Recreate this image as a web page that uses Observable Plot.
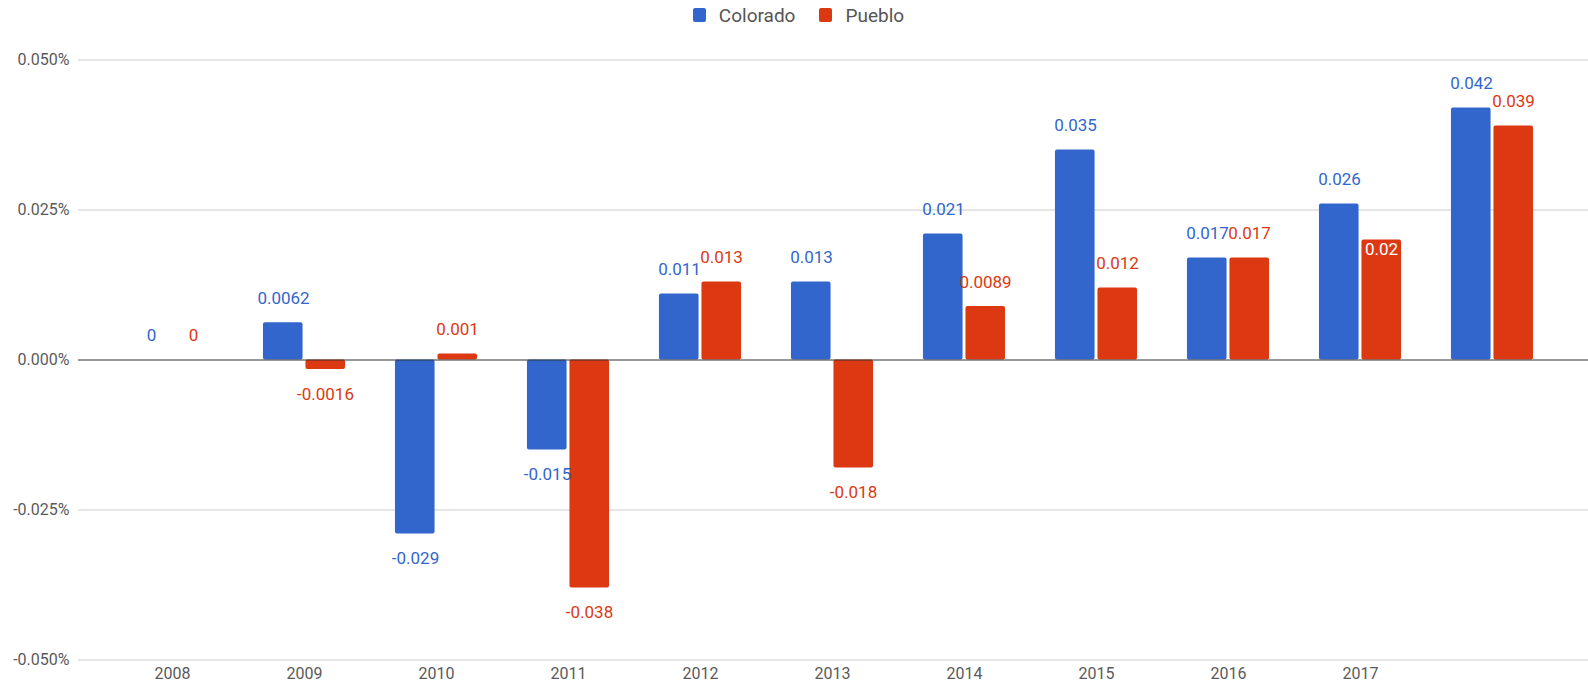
<!DOCTYPE html>
<html>
<head>
<meta charset="utf-8">
<script src="https://cdn.jsdelivr.net/npm/d3@7"></script>
<script src="https://cdn.jsdelivr.net/npm/@observablehq/plot@0.6"></script>
<style>
  body { margin: 0; background: #fff; font-family: Roboto, "Noto Sans", sans-serif; }
  #legend { height: 30px; display: flex; justify-content: center; align-items: center; gap: 24px; font-size: 19px; color: #555; padding-left: 9px; box-sizing: border-box; }
  #legend .item { display: flex; align-items: center; gap: 13px; }
  #legend .sw { width: 13px; height: 14px; border-radius: 2px; }
  svg { display: block; }
</style>
</head>
<body>
<div id="legend"></div>
<div id="chart"></div>
<script>
const years = ["2008","2009","2010","2011","2012","2013","2014","2015","2016","2017","2018"];
const xTickLabels = ["2008","2009","2010","2011","2012","2013","2014","2015","2016","2017"];
const seriesNames = ["Colorado", "Pueblo"];
const colorado = [0, 0.0062, -0.029, -0.015, 0.011, 0.013, 0.021, 0.035, 0.017, 0.026, 0.042];
const pueblo   = [0, -0.0016, 0.001, -0.038, 0.013, -0.018, 0.0089, 0.012, 0.017, 0.02, 0.039];
const colors = ["#3366cc", "#dc3912"];
const yTicks = [-0.05, -0.025, 0, 0.025, 0.05];

const data = [];
years.forEach((y, i) => {
  data.push({year: y, series: seriesNames[0], value: colorado[i]});
  data.push({year: y, series: seriesNames[1], value: pueblo[i]});
});

// Legend
const leg = document.getElementById("legend");
seriesNames.forEach((s, i) => {
  const it = document.createElement("div");
  it.className = "item";
  it.innerHTML = `<span class="sw" style="background:${colors[i]}"></span><span>${s}</span>`;
  leg.appendChild(it);
});

const W = 1588, H = 657;
const step = 132.9;
const x0 = 101.5;
const half = step / 2;
const isInside = d => d.year === "2017" && d.series === "Pueblo";
const fmtLabel = v => String(v);

const blue = data.filter(d => d.series === "Colorado");
const red = data.filter(d => d.series === "Pueblo");
const textPos = arr => arr.filter(d => !isInside(d) && d.value >= 0);
const textNeg = arr => arr.filter(d => !isInside(d) && d.value < 0);

const chart = Plot.plot({
  width: W,
  height: H,
  marginTop: 29.5,
  marginBottom: 27.5,
  marginLeft: 78,
  marginRight: 0,
  style: { fontFamily: "Roboto, 'Noto Sans', sans-serif", background: "#fff" },
  x: { domain: years, range: [x0, x0 + step * years.length], padding: 0, label: null },
  y: { domain: [-0.05, 0.05], label: null },
  marks: [
    Plot.ruleY(yTicks.filter(t => t !== 0), { stroke: "#cccccc", strokeWidth: 1 }),
    Plot.barY(blue, { x: "year", y: "value", fill: colors[0], insetLeft: half - 41.5, insetRight: half + 1, rx: 2 }),
    Plot.barY(red, { x: "year", y: "value", fill: colors[1], insetLeft: half + 1, insetRight: half - 41.5, rx: 2 }),
    Plot.ruleY([0], { stroke: "#333333", strokeWidth: 1 }),
    Plot.text(textPos(blue), { x: "year", y: "value", text: d => fmtLabel(d.value), dx: -21, dy: -24, fill: colors[0], fontSize: 17, lineAnchor: "middle" }),
    Plot.text(textNeg(blue), { x: "year", y: "value", text: d => fmtLabel(d.value), dx: -21, dy: 25, fill: colors[0], fontSize: 17, lineAnchor: "middle" }),
    Plot.text(textPos(red), { x: "year", y: "value", text: d => fmtLabel(d.value), dx: 21, dy: -24, fill: colors[1], fontSize: 17, lineAnchor: "middle" }),
    Plot.text(textNeg(red), { x: "year", y: "value", text: d => fmtLabel(d.value), dx: 21, dy: 25, fill: colors[1], fontSize: 17, lineAnchor: "middle" }),
    Plot.text(data.filter(isInside), { x: "year", y: "value", text: d => fmtLabel(d.value), dx: 21, dy: 10, fill: "#ffffff", fontSize: 17, lineAnchor: "middle" }),
    Plot.axisY({ ticks: yTicks, tickFormat: d => d.toFixed(3) + "%", tickSize: 0, tickPadding: 9, fontSize: 16, color: "#5a5a5a", label: null }),
    Plot.axisX({ ticks: xTickLabels, tickSize: 0, tickPadding: 8, fontSize: 16, color: "#5a5a5a", label: null })
  ]
});
document.getElementById("chart").appendChild(chart);
</script>
</body>
</html>
